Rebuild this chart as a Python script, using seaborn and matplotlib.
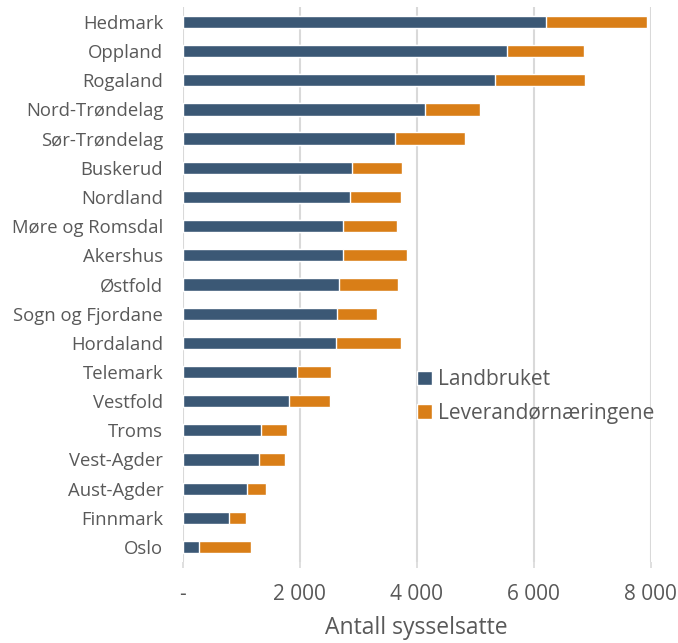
import matplotlib
matplotlib.use("Agg")
import matplotlib.pyplot as plt
import seaborn as sns
import pandas as pd
from matplotlib.patches import Patch
from matplotlib.ticker import FuncFormatter

fylker = ["Hedmark", "Oppland", "Rogaland", "Nord-Trøndelag", "Sør-Trøndelag",
          "Buskerud", "Nordland", "Møre og Romsdal", "Akershus", "Østfold",
          "Sogn og Fjordane", "Hordaland", "Telemark", "Vestfold", "Troms",
          "Vest-Agder", "Aust-Agder", "Finnmark", "Oslo"]
landbruket = [6210, 5550, 5340, 4135, 3635, 2895, 2860, 2745, 2740, 2665,
              2645, 2620, 1960, 1815, 1340, 1305, 1100, 790, 285]
leverandor = [1730, 1305, 1530, 940, 1195, 860, 870, 915, 1095, 1020,
              675, 1105, 570, 695, 450, 440, 320, 285, 890]
x_ticks = [0, 2000, 4000, 6000, 8000]

blue = "#3B5875"
orange = "#D97E17"
text_col = "#595959"

df = pd.DataFrame({"fylke": fylker, "Landbruket": landbruket,
                   "Leverandørnæringene": leverandor})
df["total"] = df["Landbruket"] + df["Leverandørnæringene"]

sns.set_theme(style="white")
plt.rcParams["font.family"] = ["Open Sans", "DejaVu Sans"]

fig = plt.figure(figsize=(6.78, 6.43), dpi=100)
ax = fig.add_axes([0.2695, 0.1266, 0.6902, 0.862])

sns.barplot(data=df, y="fylke", x="total", color=orange, orient="h",
            width=0.42, ax=ax, saturation=1, zorder=3)
sns.barplot(data=df, y="fylke", x="Landbruket", color=blue, orient="h",
            width=0.42, ax=ax, saturation=1, zorder=4)

ax.set_xlim(0, 8000)
ax.set_xticks(x_ticks)
ax.xaxis.set_major_formatter(FuncFormatter(
    lambda v, p: "-" if v == 0 else f"{int(v):,}".replace(",", " ")))
ax.grid(axis="x", color="#D9D9D9", linewidth=1.5, zorder=0)
ax.set_axisbelow(True)
for s in ax.spines.values():
    s.set_visible(False)

ax.tick_params(axis="y", length=0, labelsize=13.3, labelcolor=text_col, pad=14)
ax.tick_params(axis="x", length=4, color="#D9D9D9", width=1.2, labelsize=15,
               labelcolor=text_col, pad=12, bottom=True)
ax.set_ylabel("")
ax.set_xlabel("Antall sysselsatte", fontsize=16.5, color=text_col, labelpad=8)

handles = [Patch(facecolor=blue, label="Landbruket"),
           Patch(facecolor=orange, label="Leverandørnæringene")]
leg = ax.legend(handles=handles, loc="upper left", bbox_to_anchor=(0.50, 0.347),
                frameon=False, fontsize=15, handlelength=0.72, handleheight=0.72,
                handletextpad=0.3, labelspacing=0.62, borderaxespad=0,
                borderpad=0)
for t in leg.get_texts():
    t.set_color(text_col)

fig.savefig("out.png", dpi=100)
